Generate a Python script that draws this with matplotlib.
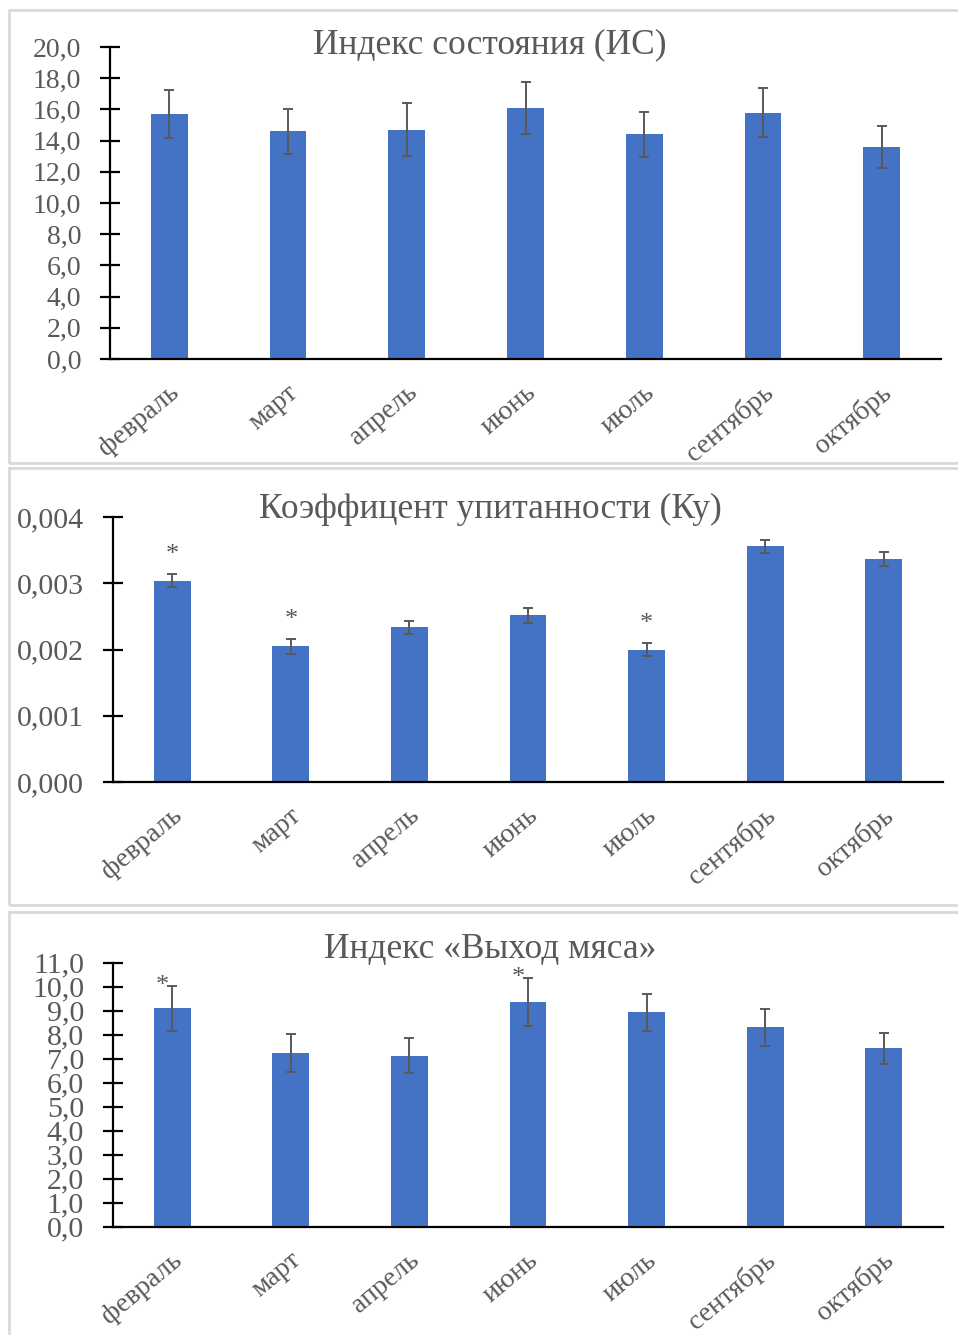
import matplotlib
matplotlib.use('Agg')
import matplotlib.pyplot as plt
import matplotlib.patches as patches
from matplotlib.transforms import ScaledTranslation
from matplotlib.ticker import FixedLocator, FuncFormatter

months = ['февраль', 'март', 'апрель', 'июнь', 'июль', 'сентябрь', 'октябрь']

is_mean = [15.7, 14.6, 14.7, 16.1, 14.4, 15.8, 13.6]
is_err = [1.55, 1.45, 1.7, 1.65, 1.45, 1.55, 1.35]

ku_mean = [0.00304, 0.00205, 0.00234, 0.00252, 0.00200, 0.00356, 0.00337]
ku_err = [0.0001, 0.00011, 0.0001, 0.00011, 0.0001, 0.0001, 0.0001]
ku_stars = [0, 1, 4]

meat_mean = [9.1, 7.25, 7.13, 9.38, 8.93, 8.31, 7.43]
meat_err = [0.93, 0.8, 0.72, 1.0, 0.76, 0.76, 0.64]
meat_stars = [0, 3]

titles = ['Индекс состояния (ИС)', 'Коэффицент упитанности (Ку)', 'Индекс «Выход мяса»']

W, H = 958, 1335
BLUE = '#4472C4'
GRAY = '#595959'
SERIF = 'Liberation Serif'

fig = plt.figure(figsize=(W / 100, H / 100), dpi=100)

def fx(px):
    return px / W

def fy(py):
    return 1 - py / H

# panel frames
for top, bot in [(10, 463), (468, 905), (912, 1400)]:
    fig.patches.append(patches.Rectangle((fx(9), fy(bot)), fx(1000 - 9), (bot - top) / H,
                                         transform=fig.transFigure, fill=False,
                                         edgecolor='#d9d9d9', lw=2, zorder=0))


def panel(left, right, top, bottom, mean, err, ymax, step, fmt, ysize, title, title_base,
          stars=(), star_dx=0.0, star_dy=0.0):
    ax = fig.add_axes([fx(left), fy(bottom), (right - left) / W, (bottom - top) / H])
    x = range(len(months))
    ax.bar(x, mean, width=0.31, color=BLUE, zorder=2)
    ax.errorbar(x, mean, yerr=err, fmt='none', ecolor=GRAY, elinewidth=1.4,
                capsize=3.6, capthick=1.4, zorder=3)
    ax.set_xlim(-0.5, len(months) - 0.5)
    ax.set_ylim(0, ymax)
    ticks = [i * step for i in range(int(round(ymax / step)) + 1)]
    ax.yaxis.set_major_locator(FixedLocator(ticks))
    ax.yaxis.set_major_formatter(FuncFormatter(lambda v, p: fmt.format(v).replace('.', ',')))
    for s in ['top', 'right']:
        ax.spines[s].set_visible(False)
    for s in ['left', 'bottom']:
        ax.spines[s].set_linewidth(1.6)
        ax.spines[s].set_color('black')
    ax.tick_params(axis='y', direction='inout', length=13.7, width=1.6, pad=14,
                   labelsize=ysize, labelcolor=GRAY)
    ax.tick_params(axis='x', length=0, pad=22, labelsize=20, labelcolor=GRAY)
    ax.set_xticks(list(x))
    ax.set_xticklabels(months, rotation=40, ha='right', va='center', rotation_mode='anchor')
    off = ScaledTranslation(5 / 72, 0, fig.dpi_scale_trans)
    for lbl in ax.get_xticklabels() + ax.get_yticklabels():
        lbl.set_fontfamily(SERIF)
    for lbl in ax.get_xticklabels():
        lbl.set_transform(lbl.get_transform() + off)
    for i in stars:
        ax.annotate('*', (i, mean[i] + err[i]), xytext=(star_dx, star_dy),
                    textcoords='offset points', ha='center', va='bottom',
                    fontsize=19, color=GRAY, family=SERIF)
    fig.text(fx(490), fy(title_base), title, ha='center', va='baseline',
             fontsize=25.5, color=GRAY, family=SERIF)
    return ax


panel(110, 941, 47, 359, is_mean, is_err, 20, 2, '{:.1f}', 20, titles[0], 53)
panel(113, 943, 517.3, 782, ku_mean, ku_err, 0.004, 0.001, '{:.3f}', 21.5, titles[1], 518,
      stars=ku_stars, star_dx=0, star_dy=6)
panel(113, 943, 962.7, 1226.7, meat_mean, meat_err, 11, 1, '{:.1f}', 21.5, titles[2], 958,
      stars=meat_stars, star_dx=-7, star_dy=-8)

fig.savefig('out.png', dpi=100)
